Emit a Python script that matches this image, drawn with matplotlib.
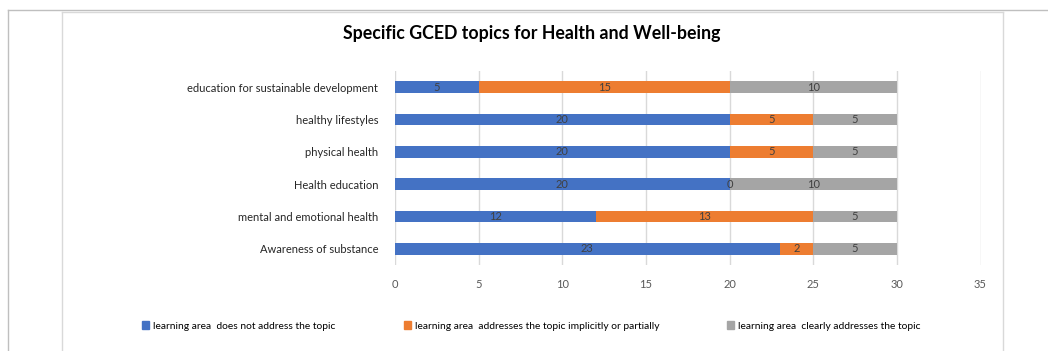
import matplotlib
matplotlib.use("Agg")
import matplotlib.pyplot as plt
from matplotlib.lines import Line2D
import numpy as np

plt.rcParams['font.family'] = ['Lato', 'DejaVu Sans']

categories = ["Awareness of substance", "mental and emotional health", "Health education",
              "physical health", "healthy lifestyles", "education for sustainable development"]
not_address = [23, 12, 20, 20, 20, 5]
implicit = [2, 13, 0, 5, 5, 15]
clearly = [5, 5, 10, 5, 5, 10]
series_names = ["learning area  does not address the topic",
                "learning area  addresses the topic implicitly or partially",
                "learning area  clearly addresses the topic"]
colors = ["#4472C4", "#ED7D31", "#A5A5A5"]
xticks = [0, 5, 10, 15, 20, 25, 30, 35]
title = "Specific GCED topics for Health and Well-being"

W, H = 1048, 351
fig = plt.figure(figsize=(W / 100, H / 100), dpi=100)
ax = fig.add_axes([395 / W, 1 - 265 / H, (980.5 - 395) / W, (265 - 71) / H])

y = np.arange(len(categories))
left = np.zeros(len(categories))
for vals, name, c in zip([not_address, implicit, clearly], series_names, colors):
    vals = np.array(vals, dtype=float)
    bars = ax.barh(y, vals, left=left, height=0.37, color=c, label=name, zorder=3)
    texts = ax.bar_label(bars, labels=[f"{int(v)}" for v in vals], label_type='center',
                         fontsize=8, color="#404040")
    for t in texts:
        t.set_zorder(6)
    left = left + vals

ax.set_xlim(0, 35)
ax.set_ylim(-0.5, len(categories) - 0.5)
ax.set_xticks(xticks)
ax.set_yticks(y)
ax.set_yticklabels(categories, fontsize=8, color="#262626")
ax.tick_params(axis='x', labelsize=8, labelcolor="#595959", length=0, pad=10)
ax.tick_params(axis='y', length=0, pad=12)
ax.grid(axis='x', color="#d9d9d9", linewidth=1, zorder=0)
for s in ax.spines.values():
    s.set_visible(False)

fig.text(532 / W, 1 - 33 / H, title, ha='center', va='center', fontsize=12.8, fontweight='bold')

handles = [plt.Rectangle((0, 0), 1, 1, color=c) for c in colors]
fig.legend(handles, series_names, loc='center', bbox_to_anchor=(531.5 / W, 1 - 326 / H),
           ncol=3, frameon=False, fontsize=7.4, handlelength=0.7, handleheight=0.7,
           handletextpad=0.4, columnspacing=6.6)

# frames
def fline(x0, y0, x1, y1, color):
    fig.add_artist(Line2D([x0 / W, x1 / W], [1 - y0 / H, 1 - y1 / H], color=color, linewidth=1,
                          transform=fig.transFigure))

fline(8, 10, W, 10, "#bfbfbf")
fline(8, 10, 8, H, "#bfbfbf")
fline(62, 11.5, 1003, 11.5, "#d9d9d9")
fline(62, 11.5, 62, H, "#d9d9d9")
fline(1003, 11.5, 1003, H, "#d9d9d9")

fig.savefig("out.png", dpi=100)
